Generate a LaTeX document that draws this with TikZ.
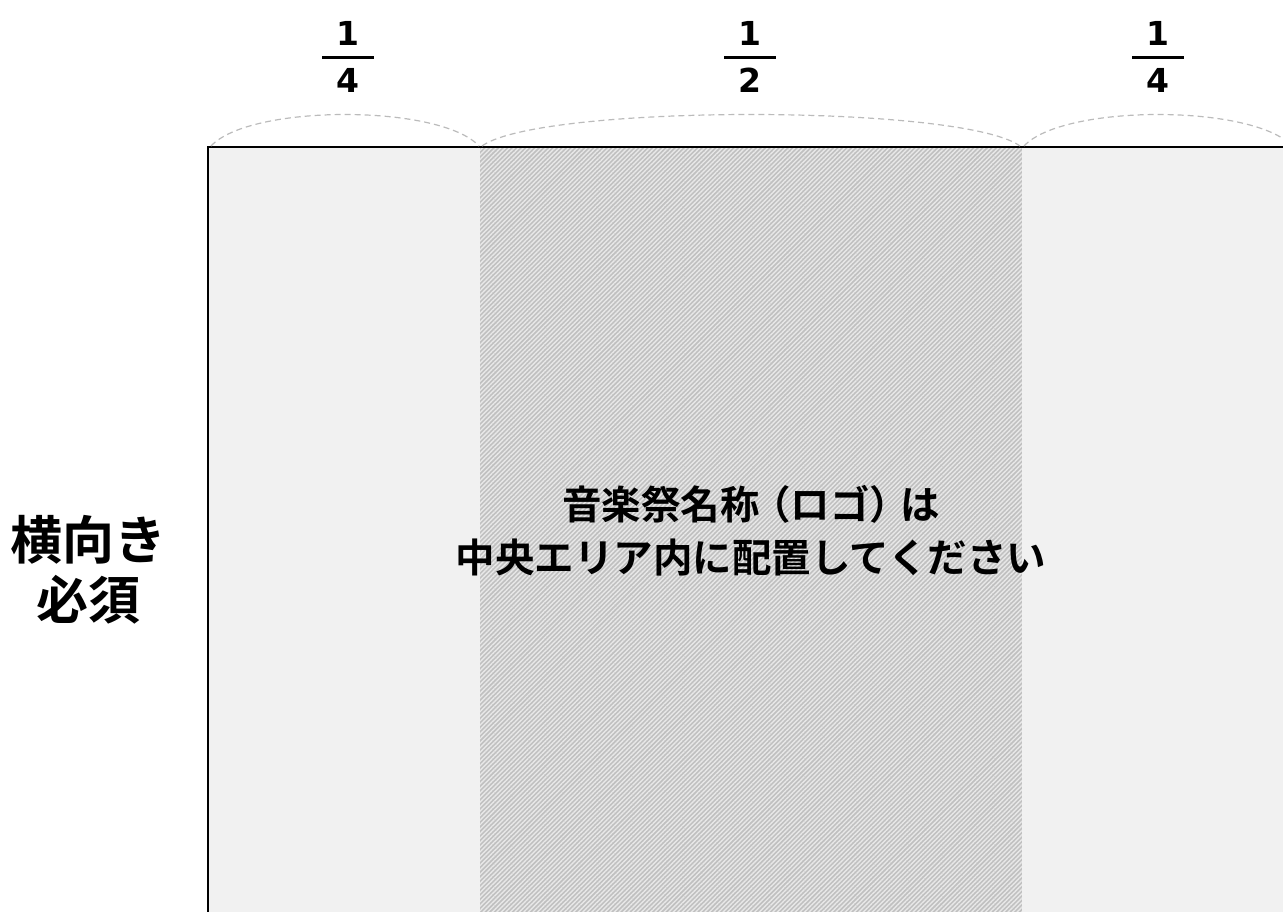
\documentclass[tikz,border=0pt]{standalone}
\usepackage{fontspec}
\setmainfont{Noto Sans CJK JP}[BoldFont={Noto Sans CJK JP Bold}]
\newfontfamily\digitfont{DejaVu Sans}
\usetikzlibrary{patterns.meta}
\definecolor{panel}{HTML}{F1F1F1}
\definecolor{hatchbase}{HTML}{C0C0C0}
\definecolor{hatchline}{HTML}{E8E8E8}
\definecolor{arcgray}{HTML}{BBBBBB}
\begin{document}
\begin{tikzpicture}[x=1pt,y=-1pt,
  fracnum/.style={font=\digitfont\bfseries\fontsize{33}{35}\selectfont, inner sep=0pt},
  fracbar/.style={line width=3pt},
  spanarc/.style={draw=arcgray, line width=1.2pt, dash pattern=on 6pt off 4pt},
  maintext/.style={font=\bfseries\fontsize{39.5}{53}\selectfont, align=center, inner sep=0pt},
  sidetext/.style={font=\bfseries\fontsize{52}{60}\selectfont, align=center, inner sep=0pt}]
\useasboundingbox (0,0) rectangle (1283,911);
% panels
\fill[panel] (208,147) rectangle (480,920);
\fill[hatchbase] (480,147) rectangle (1022,920);
\fill[pattern={Lines[angle=45,distance=3.2pt,line width=1.4pt]}, pattern color=hatchline] (480,147) rectangle (1022,920);
\fill[panel] (1022,147) rectangle (1293,920);
\draw[line width=1.5pt] (208,920) -- (208,147) -- (1293,147);
% coordinates for arcs
\coordinate (a0) at (211,146);
\coordinate (a1) at (479,146);
\coordinate (a2) at (482,146);
\coordinate (a3) at (1020,146);
\coordinate (a4) at (1024,146);
\coordinate (a5) at (1292,146);
\draw[spanarc] (a0) .. controls (250,104) and (440,104) .. (a1);
\draw[spanarc] (a2) .. controls (540,104) and (962,104) .. (a3);
\draw[spanarc] (a4) .. controls (1063,104) and (1253,104) .. (a5);
% fractions
\node[fracnum] (n1) at (348,33.5) {1};
\node[fracnum] (d1) at (348,80) {4};
\draw[fracbar] (322,57) -- (374,57);
\node[fracnum] (n2) at (750,33.5) {1};
\node[fracnum] (d2) at (750,80) {2};
\draw[fracbar] (724,57) -- (776,57);
\node[fracnum] (n3) at (1158,33.5) {1};
\node[fracnum] (d3) at (1158,80) {4};
\draw[fracbar] (1132,57) -- (1184,57);
% texts
\node[maintext] (center) at (751,531) {音楽祭名称\kern-0.22em（ロゴ）\kern-0.22emは\\中央エリア内に配置してください};
\node[sidetext] (side) at (88,570) {横向き\\必須};
\end{tikzpicture}
\end{document}
